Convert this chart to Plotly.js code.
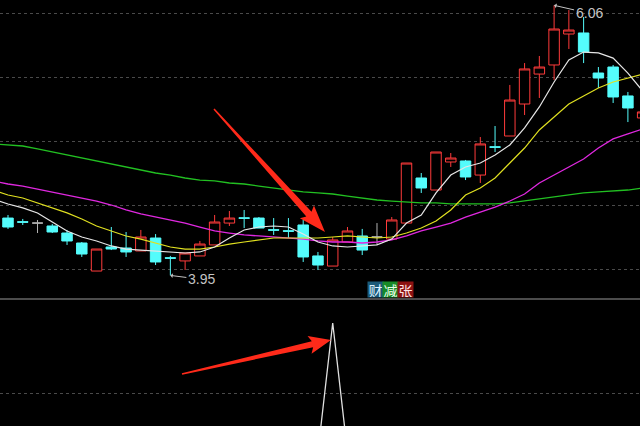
<!DOCTYPE html>
<html><head><meta charset="utf-8">
<script src="https://cdn.plot.ly/plotly-3.0.1.min.js"></script>
<style>html,body{margin:0;padding:0;background:#000;overflow:hidden}#chart{width:640px;height:426px}</style>
</head><body><div id="chart"></div>
<script>
// ---- candle data (one entry per trading day, left to right) ----
const openP  = [4.398,4.370,4.359,4.336,4.281,4.203,3.984,4.172,4.164,4.141,4.242,4.088,4.063,4.102,4.188,4.359,4.400,4.398,4.307,4.299,4.344,4.102,4.023,4.211,4.258,4.250,4.234,4.359,4.711,4.617,4.836,4.844,4.734,4.955,5.039,5.289,5.523,5.594,5.836,5.844,5.531,5.578,5.352,5.180];
const highP  = [4.422,4.391,4.383,4.352,4.305,4.211,4.156,4.328,4.289,4.305,4.273,4.102,4.125,4.219,4.422,4.453,4.461,4.406,4.398,4.398,4.383,4.133,4.250,4.328,4.313,4.359,4.406,4.828,4.750,4.914,4.906,4.852,5.031,5.117,5.438,5.609,5.664,6.060,6.023,5.969,5.578,5.594,5.383,5.250];
const lowP   = [4.313,4.344,4.281,4.281,4.188,4.094,3.984,4.148,4.094,4.141,4.031,3.950,3.992,4.102,4.188,4.336,4.320,4.320,4.266,4.242,4.055,3.992,4.023,4.211,4.109,4.188,4.234,4.359,4.594,4.617,4.797,4.695,4.672,4.914,5.039,5.203,5.336,5.477,5.719,5.609,5.414,5.297,5.148,5.160];
const closeP = [4.328,4.365,4.359,4.289,4.219,4.117,4.156,4.156,4.133,4.250,4.055,4.084,4.125,4.195,4.367,4.398,4.396,4.320,4.303,4.295,4.094,4.031,4.227,4.297,4.148,4.250,4.383,4.828,4.633,4.914,4.867,4.719,4.977,4.951,5.320,5.563,5.578,5.875,5.867,5.695,5.492,5.344,5.258,5.227];

// ---- moving averages (first value is the day before the first visible candle) ----
const ma5  = [4.547,4.508,4.477,4.438,4.367,4.297,4.250,4.219,4.180,4.156,4.148,4.141,4.133,4.125,4.133,4.172,4.242,4.305,4.328,4.336,4.328,4.273,4.211,4.180,4.172,4.180,4.188,4.234,4.359,4.422,4.594,4.734,4.797,4.828,4.891,4.969,5.102,5.266,5.461,5.633,5.695,5.688,5.648,5.531,5.391];
const ma10 = [4.617,4.578,4.555,4.516,4.477,4.438,4.391,4.336,4.297,4.258,4.234,4.203,4.172,4.156,4.156,4.172,4.195,4.211,4.227,4.242,4.242,4.242,4.242,4.250,4.258,4.250,4.242,4.250,4.281,4.320,4.375,4.461,4.578,4.633,4.711,4.828,4.945,5.086,5.188,5.289,5.352,5.414,5.461,5.492,5.523];
const ma20 = [4.688,4.664,4.648,4.625,4.602,4.578,4.555,4.531,4.500,4.461,4.430,4.406,4.383,4.359,4.328,4.297,4.281,4.266,4.258,4.250,4.242,4.234,4.219,4.211,4.211,4.203,4.211,4.227,4.258,4.297,4.328,4.359,4.406,4.445,4.484,4.531,4.586,4.672,4.734,4.797,4.859,4.945,5.016,5.055,5.094];
const ma60 = [4.977,4.969,4.961,4.938,4.914,4.891,4.867,4.844,4.820,4.797,4.773,4.750,4.734,4.711,4.695,4.688,4.672,4.664,4.648,4.633,4.617,4.602,4.594,4.586,4.570,4.555,4.539,4.531,4.523,4.516,4.516,4.508,4.508,4.508,4.508,4.516,4.531,4.547,4.563,4.578,4.594,4.602,4.609,4.617,4.633];

// ---- lower indicator panel ----
const signal = [0,0,0,0,0,0,0,0,0,0,0,0,0,0,0,0,0,0,0,0,0,0,100,0,0,0,0,0,0,0,0,0,0,0,0,0,0,0,0,0,0,0,0,0];

const priceGrid = [4.0,4.5,5.0,5.5,6.0];
const signalGrid = [45.7];
const tags = ["财","减","张"];

// ---- build ----
const W = 640, H = 426;
const idx = openP.map((_, i) => i);
const isDoji = i => openP[i] === closeP[i];
const normal = idx.filter(i => !isDoji(i));
const doji = idx.filter(isDoji);
const pick = (a, ids) => ids.map(i => a[i]);
const maX = ma5.map((_, i) => i - 1);

const RED = '#ff3b3b', CYAN = '#54fcfc';
const traces = [
  {type:'candlestick', x:normal, open:pick(openP,normal), high:pick(highP,normal), low:pick(lowP,normal), close:pick(closeP,normal),
   increasing:{line:{color:RED,width:1}, fillcolor:'#000000'},
   decreasing:{line:{color:CYAN,width:1}, fillcolor:CYAN},
   whiskerwidth:0, hoverinfo:'skip', xaxis:'x', yaxis:'y'},
  {type:'candlestick', x:doji, open:pick(openP,doji), high:pick(highP,doji), low:pick(lowP,doji), close:pick(closeP,doji),
   increasing:{line:{color:'#b4b4b4',width:1}, fillcolor:'#b4b4b4'},
   decreasing:{line:{color:'#b4b4b4',width:1}, fillcolor:'#b4b4b4'},
   whiskerwidth:0, hoverinfo:'skip', xaxis:'x', yaxis:'y'},
  {type:'scatter', mode:'lines', x:maX, y:ma60, line:{color:'#22c022',width:1.3}, hoverinfo:'skip'},
  {type:'scatter', mode:'lines', x:maX, y:ma20, line:{color:'#e028e0',width:1.3}, hoverinfo:'skip'},
  {type:'scatter', mode:'lines', x:maX, y:ma10, line:{color:'#e0e020',width:1.2}, hoverinfo:'skip'},
  {type:'scatter', mode:'lines', x:maX, y:ma5,  line:{color:'#e6e6e6',width:1.2}, hoverinfo:'skip'},
  {type:'scatter', mode:'lines', x:idx, y:signal, line:{color:'#e0e0e0',width:1.3}, hoverinfo:'skip', xaxis:'x2', yaxis:'y2'}
];

// hi / lo labels
let hiI = 0, loI = 0;
idx.forEach(i => { if (highP[i] > highP[hiI]) hiI = i; if (lowP[i] < lowP[loI]) loI = i; });
const labelFont = {family:'Liberation Sans, Arial, sans-serif', size:14, color:'#c4c4c4'};
const annotations = [
  {x:hiI, y:highP[hiI], xref:'x', yref:'y', text:highP[hiI].toFixed(2), showarrow:true, ax:35, ay:8,
   arrowcolor:'#c4c4c4', arrowwidth:1, arrowhead:1, arrowsize:0.8, font:labelFont, standoff:0},
  {x:loI, y:lowP[loI], xref:'x', yref:'y', text:lowP[loI].toFixed(2), showarrow:true, ax:31, ay:4,
   arrowcolor:'#c4c4c4', arrowwidth:1, arrowhead:1, arrowsize:0.8, font:labelFont, standoff:0}
];
const tagStyle = [
  {bg:'#1b5a78', fg:'#dff2ff'},
  {bg:'#188a28', fg:'#eaffea'},
  {bg:'#8c1212', fg:'#ffe4e4'}
];
tags.forEach((t, k) => {
  annotations.push({xref:'paper', yref:'paper', x:(375.5 + k*14.8)/W, y:1 - 289/H, text:t, showarrow:false,
    bgcolor:tagStyle[k].bg, font:{family:'Noto Sans CJK SC, sans-serif', size:14, color:tagStyle[k].fg},
    width:14.8, height:15, borderpad:0, xanchor:'center', yanchor:'middle'});
});

// decorative red arrows (page pixel geometry -> paper coords)
function arrowPath(tail, tip, tailW, shaftW, headLen, headW) {
  const dx = tip[0]-tail[0], dy = tip[1]-tail[1], L = Math.hypot(dx,dy);
  const u = [dx/L, dy/L], n = [-u[1], u[0]];
  const base = [tip[0]-headLen*u[0], tip[1]-headLen*u[1]];
  const wingB = [base[0]-3*u[0], base[1]-3*u[1]];
  const pts = [
    [tail[0]+n[0]*tailW/2, tail[1]+n[1]*tailW/2],
    [base[0]+n[0]*shaftW/2, base[1]+n[1]*shaftW/2],
    [wingB[0]+n[0]*headW/2, wingB[1]+n[1]*headW/2],
    tip,
    [wingB[0]-n[0]*headW/2, wingB[1]-n[1]*headW/2],
    [base[0]-n[0]*shaftW/2, base[1]-n[1]*shaftW/2],
    [tail[0]-n[0]*tailW/2, tail[1]-n[1]*tailW/2]
  ];
  return pts.map((p, i) => (i ? 'L' : 'M') + (p[0]/W).toFixed(5) + ',' + (1 - p[1]/H).toFixed(5)).join(' ') + ' Z';
}
const shapes = [
  {type:'line', xref:'paper', yref:'paper', x0:0, x1:1, y0:1-299/H, y1:1-299/H, line:{color:'#4c4c4c', width:2}},
  {type:'path', xref:'paper', yref:'paper', path:arrowPath([214,109],[325,232],1.5,7,24,19), fillcolor:'#ff2a1a', line:{width:0}, layer:'above'},
  {type:'path', xref:'paper', yref:'paper', path:arrowPath([182,374],[331,340],1.5,6,19,18), fillcolor:'#ff2a1a', line:{width:0}, layer:'above'}
];

const xr = [-0.542, 42.82];
const layout = {
  width:W, height:H, margin:{l:0,r:0,t:0,b:0},
  paper_bgcolor:'#000', plot_bgcolor:'#000', showlegend:false, boxgap:0.29, boxgroupgap:0, hovermode:false,
  xaxis:{range:xr, showgrid:false, zeroline:false, showticklabels:false, ticks:'', showline:false, rangeslider:{visible:false}, anchor:'y'},
  yaxis:{domain:[1-298/H, 1], range:[3.7734, 6.1016], tickvals:priceGrid, showticklabels:false, ticks:'', zeroline:false, showline:false,
         gridcolor:'#4a4a4a', griddash:'dot', gridwidth:1},
  xaxis2:{range:xr, showgrid:false, zeroline:false, showticklabels:false, ticks:'', showline:false, anchor:'y2'},
  yaxis2:{domain:[0, 1-300/H], range:[20.16, 117.8], tickvals:signalGrid, showticklabels:false, ticks:'', zeroline:false, showline:false,
          gridcolor:'#4a4a4a', griddash:'dot', gridwidth:1, anchor:'x2'},
  annotations, shapes
};
Plotly.newPlot('chart', traces, layout, {staticPlot:true, displayModeBar:false});
</script></body></html>
